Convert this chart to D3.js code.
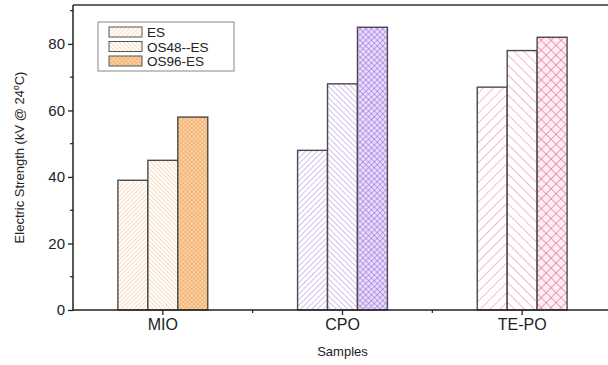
<!DOCTYPE html>
<html>
<head>
<meta charset="utf-8">
<script src="https://cdn.jsdelivr.net/npm/d3@7"></script>
<style>
  body { margin: 0; background: #fff; }
  svg { display: block; font-family: "Liberation Sans", Arial, sans-serif; }
</style>
</head>
<body>
<svg id="chart" width="608" height="365"></svg>
<script>
const samples = ["MIO", "CPO", "TE-PO"];
const seriesNames = ["ES", "OS48--ES", "OS96-ES"];
const esValues = [39, 48, 67];
const os48Values = [45, 68, 78];
const os96Values = [58, 85, 82];
const yTicks = [0, 20, 40, 60, 80];

const svg = d3.select("#chart");
const plotLeft = 73, plotTop = 5, plotBottom = 310, plotRight = 612;

const x = d3.scaleBand().domain(samples).range([plotLeft, plotRight]).padding(0);
const xSub = d3.scaleBand().domain(seriesNames).range([0, x.bandwidth()]).paddingInner(0).paddingOuter(1.5);
const y = d3.scaleLinear().domain([0, 91.7]).range([plotBottom, plotTop]);

// colour per sample group, hatch spacing per group
const groupStyle = {
    "MIO": { line: "#f3b77c", cross: "#f0a055", fill: "#fbd3a6", gap: 3 },
    "CPO": { line: "#a77be6", cross: "#9060dc", fill: "#eadcfa", gap: 4 },
    "TE-PO": { line: "#e8739a", cross: "#e04f7a", fill: "#fdeef3", gap: 7 }
};

const defs = svg.append("defs");
samples.forEach((s, gi) => {
    const st = groupStyle[s];
    seriesNames.forEach((n, si) => {
        const id = `pat-${gi}-${si}`;
        const p = defs.append("pattern")
            .attr("id", id)
            .attr("patternUnits", "userSpaceOnUse")
            .attr("width", st.gap)
            .attr("height", st.gap)
            .attr("patternTransform", `rotate(${si === 1 ? -45 : 45})`);
        p.append("rect").attr("width", st.gap).attr("height", st.gap)
            .attr("fill", si === 2 ? st.fill : "#fff");
        p.append("line").attr("x1", 0).attr("y1", 0).attr("x2", 0).attr("y2", st.gap)
            .attr("stroke", si === 2 ? st.cross : st.line).attr("stroke-width", 1);
        if (si === 2) {
            p.append("line").attr("x1", 0).attr("y1", 0).attr("x2", st.gap).attr("y2", 0)
                .attr("stroke", st.cross).attr("stroke-width", 1);
        }
    });
});

const rows = samples.map((s, i) => ({ sample: s, gi: i, values: [esValues[i], os48Values[i], os96Values[i]] }));

// bars
const groups = svg.append("g").selectAll("g")
    .data(rows)
    .join("g")
    .attr("transform", d => `translate(${x(d.sample)},0)`);

groups.selectAll("rect")
    .data(d => d.values.map((v, si) => ({ v, si, gi: d.gi })))
    .join("rect")
    .attr("x", d => xSub(seriesNames[d.si]))
    .attr("y", d => y(d.v))
    .attr("width", xSub.bandwidth())
    .attr("height", d => y(0) - y(d.v))
    .attr("fill", d => `url(#pat-${d.gi}-${d.si})`)
    .attr("stroke", "#4a4a4a")
    .attr("stroke-width", 1.4);

// y axis
const yAxis = svg.append("g").attr("transform", `translate(${plotLeft},0)`);
yAxis.call(d3.axisLeft(y).tickValues(yTicks).tickSize(5).tickPadding(3))
    .call(g => g.select(".domain").remove())
    .selectAll("text").style("font-size", "15px").attr("fill", "#222");
yAxis.selectAll(".tick line").attr("stroke", "#222").attr("stroke-width", 1.3);
yAxis.selectAll(".minor")
    .data([10, 30, 50, 70, 90])
    .join("line")
    .attr("class", "minor")
    .attr("x1", -3).attr("x2", 0)
    .attr("y1", d => y(d)).attr("y2", d => y(d))
    .attr("stroke", "#222").attr("stroke-width", 1.2);

// x axis
const xAxis = svg.append("g").attr("transform", `translate(0,${plotBottom})`);
xAxis.call(d3.axisBottom(x).tickSize(5).tickPadding(4))
    .call(g => g.select(".domain").remove())
    .selectAll("text").style("font-size", "16px").attr("fill", "#222");
xAxis.selectAll(".tick line").attr("stroke", "#222").attr("stroke-width", 1.3);
xAxis.selectAll(".minor")
    .data(samples.slice(1))
    .join("line")
    .attr("class", "minor")
    .attr("x1", d => x(d)).attr("x2", d => x(d))
    .attr("y1", 0).attr("y2", 3)
    .attr("stroke", "#222").attr("stroke-width", 1.2);

// frame lines
svg.append("line").attr("x1", plotLeft).attr("x2", plotRight).attr("y1", plotBottom).attr("y2", plotBottom)
    .attr("stroke", "#222").attr("stroke-width", 1.5);
svg.append("line").attr("x1", plotLeft).attr("x2", plotLeft).attr("y1", plotTop).attr("y2", plotBottom + 0.75)
    .attr("stroke", "#222").attr("stroke-width", 1.5);
svg.append("line").attr("x1", plotLeft).attr("x2", plotRight).attr("y1", plotTop).attr("y2", plotTop)
    .attr("stroke", "#333").attr("stroke-width", 1.3);

// axis titles
svg.append("text")
    .attr("x", x("CPO") + x.bandwidth() / 2)
    .attr("y", 356)
    .attr("text-anchor", "middle")
    .style("font-size", "13px")
    .attr("fill", "#222")
    .text("Samples");

const yTitle = svg.append("text")
    .attr("transform", `translate(24,${(plotTop + plotBottom) / 2}) rotate(-90)`)
    .attr("text-anchor", "middle")
    .style("font-size", "13px")
    .attr("fill", "#222");
yTitle.append("tspan").text("Electric Strength (kV @ 24");
yTitle.append("tspan").attr("dy", -5).style("font-size", "8.5px").text("o");
yTitle.append("tspan").attr("dy", 5).text("C)");

// legend
const legend = svg.append("g").attr("transform", "translate(98,22)");
legend.append("rect")
    .attr("width", 136).attr("height", 49)
    .attr("fill", "#fff").attr("stroke", "#888").attr("stroke-width", 1);
const items = legend.selectAll(".item")
    .data(seriesNames)
    .join("g")
    .attr("class", "item")
    .attr("transform", (d, i) => `translate(11,${5 + i * 14.5})`);
items.append("rect")
    .attr("width", 33).attr("height", 10)
    .attr("fill", (d, i) => `url(#pat-0-${i})`)
    .attr("stroke", "#555").attr("stroke-width", 1);
items.append("text")
    .attr("x", 38).attr("y", 10)
    .style("font-size", "13.5px")
    .attr("fill", "#222")
    .text(d => d);
</script>
</body>
</html>
